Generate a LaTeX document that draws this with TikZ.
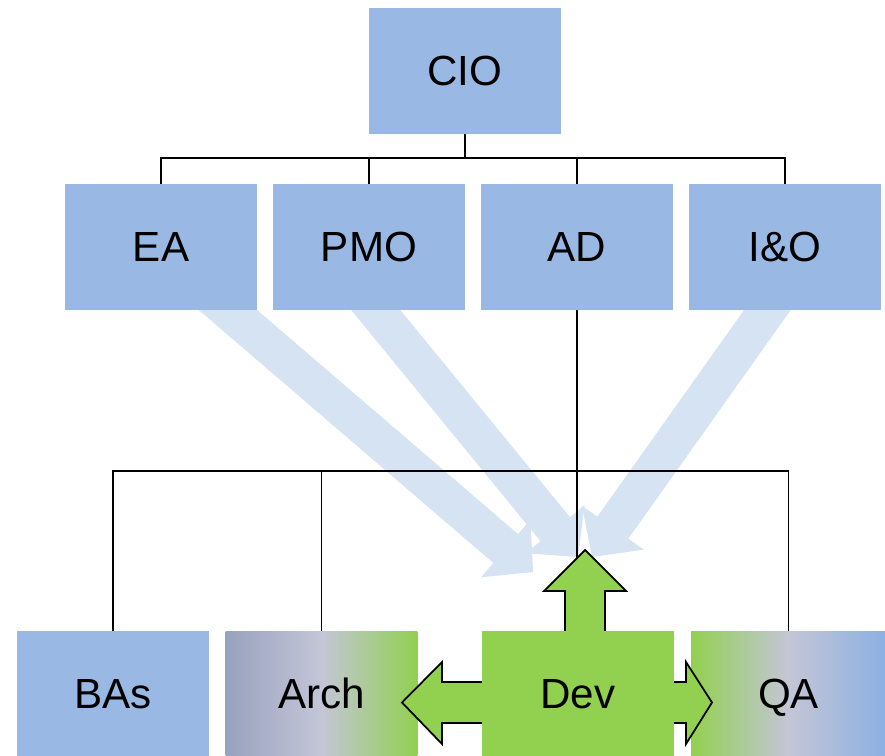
\documentclass[tikz,border=0pt]{standalone}
\usepackage{fontspec}
\setmainfont{Liberation Sans}
\usepackage{xcolor}
\usetikzlibrary{calc}

\definecolor{boxblue}{RGB}{153,185,228}
\definecolor{flowblue}{RGB}{214,227,243}
\definecolor{devgreen}{RGB}{146,208,80}
\definecolor{archgray}{RGB}{152,161,190}
\definecolor{midgray}{RGB}{196,198,214}
\definecolor{qablue}{RGB}{140,176,226}

\pgfdeclarelayer{flows}
\pgfdeclarelayer{lines}
\pgfsetlayers{flows,lines,main}

\begin{document}
\begin{tikzpicture}[x=0.02cm, y=-0.02cm, every node/.style={font=\fontsize{24}{28}\selectfont},
  orgbox/.style={rectangle, inner sep=0pt, minimum width=3.84cm, minimum height=2.52cm, text height=17pt, text depth=0pt, fill=boxblue},
  orgline/.style={line width=1.1pt},
  flow/.style={fill=flowblue},
  greenarrow/.style={fill=devgreen, draw=black, line width=1pt, line join=miter}]
\useasboundingbox (0,0) rectangle (885,756);
                                            % top two levels
                                            \node[orgbox] (CIO) at (465,71)  {CIO};
                                            \node[orgbox] (EA)  at (161,247) {EA};
                                            \node[orgbox] (PMO) at (369,247) {PMO};
                                            \node[orgbox] (AD)  at (577,247) {AD};
                                            \node[orgbox] (IO)  at (785,247) {I\&O};
                                            % delivery teams
                                            \node[orgbox] (BAs) at (113,694) {BAs};
                                            \node[orgbox, left color=archgray, right color=devgreen, middle color=midgray] (Arch) at (321.5,694) {Arch};
                                            \node[orgbox, minimum width=3.9cm, left color=devgreen, right color=qablue, middle color=midgray] (QA) at (788.5,694) {QA};
                                            % Dev reaching out
                                            \draw[greenarrow] (402,702.5) -- (442,662) -- (442,682) -- (565,682) -- (565,591) -- (544,591)
                                              -- (585,550) -- (626,591) -- (605,591) -- (605,682) -- (686,682) -- (686,662)
                                              -- (712,702.5) -- (686,744) -- (686,723) -- (442,723) -- (442,744) -- cycle;
                                            \node[orgbox, fill=devgreen] (Dev) at (578,694) {Dev};
                                            % reporting lines
                                            \begin{pgfonlayer}{lines}
                                            \draw[orgline] (CIO.south) -- ++(0,24) coordinate (cio-bar);
                                            \draw[orgline] (EA.north) |- (cio-bar) -| (IO.north);
                                            \draw[orgline] (PMO.north) -- (PMO.north |- cio-bar);
                                            \draw[orgline] (AD.north) -- (AD.north |- cio-bar);
                                            \draw[orgline] (AD.south) -- (AD.south |- Dev.north);
                                            \coordinate (ad-bar) at ($(AD.south)+(0,161)$);
                                            \draw[orgline] (BAs.north) |- (ad-bar) -| (QA.north);
                                            \draw[orgline] (Arch.north) -- (Arch.north |- ad-bar);
                                            \end{pgfonlayer}
                                            % broad flows into Dev
                                            \coordinate (ea-out)  at (193,280); \coordinate (ea-in)  at (533,572);
                                            \coordinate (pmo-out) at (352,281); \coordinate (pmo-in) at (578,557);
                                            \coordinate (io-out)  at (788,281); \coordinate (io-in)  at (592,557);
                                            \begin{pgfonlayer}{flows}
                                            \foreach \src/\dst in {ea-out/ea-in, pmo-out/pmo-in, io-out/io-in}{
                                              \coordinate (hb) at ($(\dst)!0.72cm!(\src)$);
                                              \fill[flow] ($(\src)!0.38cm!90:(\dst)$) -- ($(hb)!0.38cm!-90:(\src)$) -- ($(hb)!0.76cm!-90:(\src)$)
                                                -- (\dst) -- ($(hb)!0.76cm!90:(\src)$) -- ($(hb)!0.38cm!90:(\src)$) -- ($(\src)!0.38cm!-90:(\dst)$) -- cycle;
                                            }
                                            \end{pgfonlayer}
                                          \end{tikzpicture}
\end{document}
